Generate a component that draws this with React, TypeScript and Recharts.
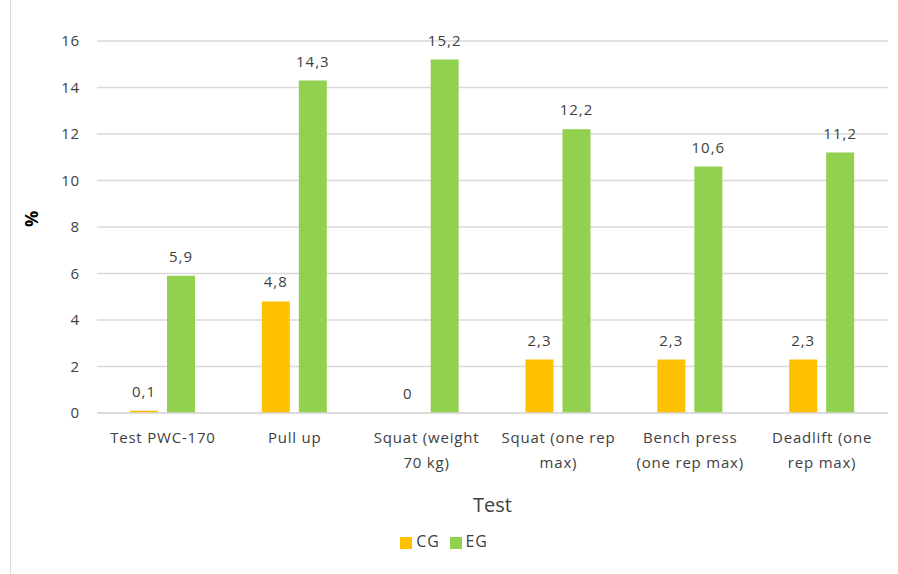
import { BarChart, Bar, XAxis, YAxis, CartesianGrid, Legend, LabelList } from "recharts";

const tests = [
  "Test PWC-170",
  "Pull up",
  "Squat (weight\n70 kg)",
  "Squat (one rep\nmax)",
  "Bench press\n(one rep max)",
  "Deadlift (one\nrep max)",
];
const cgValues = [0.1, 4.8, 0, 2.3, 2.3, 2.3];
const egValues = [5.9, 14.3, 15.2, 12.2, 10.6, 11.2];
const yTicks = [0, 2, 4, 6, 8, 10, 12, 14, 16];

const data = tests.map((test, i) => ({ test, CG: cgValues[i], EG: egValues[i] }));

const font = "'Open Sans', sans-serif";
const textColor = "#404040";

const formatValue = (v: number) => String(v).replace(".", ",");

function CategoryTick(props: any) {
  const { x, y, payload } = props;
  const lines = String(payload.value).split("\n");
  return (
    <text x={x} y={y} textAnchor="middle" fill={textColor} fontSize={15} letterSpacing={0.8} fontFamily={font}>
      {lines.map((line, i) => (
        <tspan key={i} x={x} dy={i === 0 ? 22 : 25}>
          {line}
        </tspan>
      ))}
    </text>
  );
}

function ValueLabel(props: any) {
  const { x, y, width, value } = props;
  if (value === undefined || value === null) return null;
  return (
    <text
      x={Number(x) + Number(width) / 2}
      y={Number(y) - 14}
      textAnchor="middle"
      fill={textColor}
      fontSize={15}
      letterSpacing={1}
      fontFamily={font}
    >
      {formatValue(value)}
    </text>
  );
}

export default function App() {
  return (
    <div style={{ position: "fixed", left: 0, top: 0, width: 898, height: 574, background: "#fff" }}>
      <div
        style={{
          position: "absolute",
          left: 10,
          top: 0,
          width: 1,
          height: 574,
          background: "#d9d9d9",
        }}
      />
      <BarChart
        width={898}
        height={574}
        data={data}
        margin={{ top: 41, right: 10, left: 10, bottom: 22 }}
        barSize={28}
        barGap={9}
      >
        <CartesianGrid vertical={false} stroke="#d9d9d9" strokeWidth={1.5} />
        <XAxis
          dataKey="test"
          tick={<CategoryTick />}
          tickLine={false}
          axisLine={{ stroke: "#d9d9d9", strokeWidth: 1.5 }}
          interval={0}
          height={117}
          label={{
            value: "Test",
            position: "insideBottom",
            offset: 18,
            fill: textColor,
            fontSize: 20,
            fontFamily: font,
          }}
        />
        <YAxis
          width={87}
          domain={[0, 16]}
          ticks={yTicks}
          tickLine={false}
          axisLine={false}
          tickMargin={11}
          tick={{ fill: textColor, fontSize: 15, fontFamily: font, letterSpacing: 0.8 }}
          label={{
            value: "%",
            angle: -90,
            position: "insideLeft",
            offset: 22,
            fill: "#000",
            fontSize: 18,
            fontWeight: "bold",
            fontFamily: font,
          }}
        />
        <Legend
          verticalAlign="bottom"
          iconType="square"
          iconSize={12}
          formatter={(value: string) => (
            <span style={{ color: textColor, fontSize: 16, fontFamily: font, letterSpacing: 0.8 }}>{value}</span>
          )}
        />
        <Bar dataKey="CG" fill="#ffc000" minPointSize={0.01} isAnimationActive={false}>
          <LabelList dataKey="CG" content={<ValueLabel />} />
        </Bar>
        <Bar dataKey="EG" fill="#92d050" isAnimationActive={false}>
          <LabelList dataKey="EG" content={<ValueLabel />} />
        </Bar>
      </BarChart>
    </div>
  );
}
